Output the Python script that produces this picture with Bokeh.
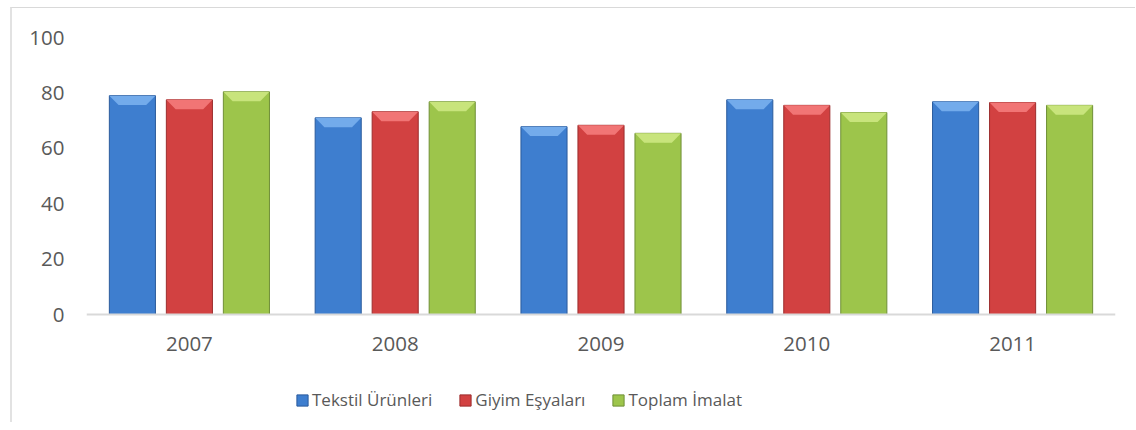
from bokeh.plotting import figure
from bokeh.models import Range1d, FixedTicker, Legend, LegendItem, ColumnDataSource
from bokeh.embed import file_html
from bokeh.resources import INLINE

# ---- data ----
years = ["2007", "2008", "2009", "2010", "2011"]
tekstil = [79.0, 71.0, 67.8, 77.5, 76.8]
giyim = [77.5, 73.2, 68.3, 75.5, 76.5]
toplam = [80.4, 76.8, 65.4, 72.9, 75.5]
series_names = ["Tekstil Ürünleri", "Giyim Eşyaları", "Toplam İmalat"]
y_ticks = [0, 20, 40, 60, 80, 100]

# ---- styles ----
body_colors = ["#3e7ecf", "#d24141", "#9dc54b"]
top_colors = ["#73abeb", "#f17575", "#c8e47c"]
edge_colors = ["#2b5b9c", "#9c2d2d", "#6f8f37"]
offsets = [-0.277, 0.0, 0.277]
bar_w = 0.224
bevel_h = 3.4
bevel_in = 0.045
FONT = "Open Sans"
TXT = "#595959"

# frame extends below zero so the legend can sit inside it
PLOT_PX = 277          # pixels for 0..100
FRAME_PX = 385
y_low = -(FRAME_PX - PLOT_PX) / PLOT_PX * 100

p = figure(frame_width=1029, frame_height=FRAME_PX, width=1123, height=29 + FRAME_PX,
           output_backend="svg", toolbar_location=None,
           x_range=Range1d(-0.5, 4.5), y_range=Range1d(y_low, 100),
           min_border_left=74, min_border_right=20, min_border_top=29, min_border_bottom=0)
p.margin = (7, 0, 0, 10)
p.styles = {"border-top": "1px solid #d9d9d9", "border-left": "2px solid #e2e2e2"}
p.outline_line_color = None
p.xgrid.visible = False
p.ygrid.visible = False
p.background_fill_color = "white"
p.border_fill_color = "white"

items = []
for k, (vals, name) in enumerate(zip([tekstil, giyim, toplam], series_names)):
    xs = [i + offsets[k] for i in range(len(years))]
    src = ColumnDataSource(dict(x=xs, top=vals))
    r = p.vbar(x="x", top="top", bottom=0, width=bar_w, source=src,
               fill_color=body_colors[k], line_color=edge_colors[k], line_width=1)
    # top bevel (light trapezoid)
    pxs, pys = [], []
    for x, v in zip(xs, vals):
        pxs.append([x - bar_w / 2, x + bar_w / 2, x + bar_w / 2 - bevel_in, x - bar_w / 2 + bevel_in])
        pys.append([v, v, v - bevel_h, v - bevel_h])
    p.patches(pxs, pys, fill_color=top_colors[k], line_color=None)
    items.append(LegendItem(label=name, renderers=[r]))

# axes
p.yaxis.ticker = FixedTicker(ticks=y_ticks)
p.yaxis.axis_line_color = None
p.yaxis.major_tick_line_color = None
p.yaxis.minor_tick_line_color = None
p.yaxis.major_label_standoff = 16
p.yaxis.major_label_text_font = FONT
p.yaxis.major_label_text_font_size = "20.5px"
p.yaxis.major_label_text_color = TXT

p.xaxis.fixed_location = 0
p.xaxis.ticker = FixedTicker(ticks=list(range(len(years))))
p.xaxis.major_label_overrides = {i: y for i, y in enumerate(years)}
p.xaxis.axis_line_color = "#d9d9d9"
p.xaxis.axis_line_width = 2
p.xaxis.major_tick_line_color = None
p.xaxis.minor_tick_line_color = None
p.xaxis.major_label_standoff = 16
p.xaxis.major_label_text_font = FONT
p.xaxis.major_label_text_font_size = "20.5px"
p.xaxis.major_label_text_color = TXT

legend = Legend(items=items, orientation="horizontal", location=(209, 11),
                label_text_font=FONT, label_text_font_size="17px", label_text_color=TXT,
                glyph_width=14, glyph_height=14, label_standoff=3, spacing=26,
                border_line_color=None, background_fill_alpha=0, margin=0, padding=4)
p.add_layout(legend, "center")

open("out.html", "w").write(file_html(p, INLINE))
